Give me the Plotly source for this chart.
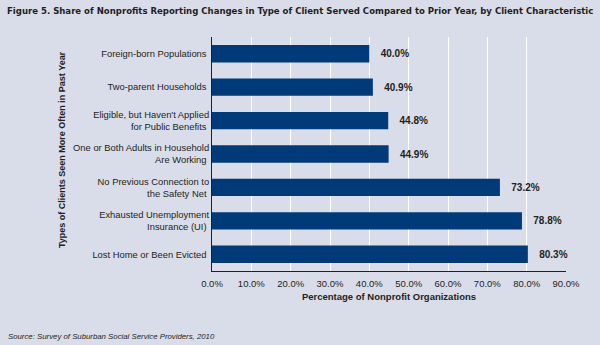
import plotly.graph_objects as go

categories = [
    "Lost Home or Been Evicted",
    "Exhausted Unemployment<br>Insurance (UI)",
    "No Previous Connection to<br>the Safety Net",
    "One or Both Adults in Household<br>Are Working",
    "Eligible, but Haven't Applied<br>for Public Benefits",
    "Two-parent Households",
    "Foreign-born Populations",
]
values = [80.3, 78.8, 73.2, 44.9, 44.8, 40.9, 40.0]
tick_vals = [0, 10, 20, 30, 40, 50, 60, 70, 80, 90]
tick_text = ["0.0%", "10.0%", "20.0%", "30.0%", "40.0%", "50.0%", "60.0%", "70.0%", "80.0%", "90.0%"]

bg = "#d9dce9"
txt = "#231f20"

fig = go.Figure(go.Bar(
    x=values, y=categories, orientation="h",
    marker=dict(color="#003a78", line=dict(width=0)),
    width=0.52,
    text=[f"{v:.1f}%" for v in values], textposition="outside",
    texttemplate="   <b>%{text}</b>",
    textfont=dict(family="Liberation Sans", size=10, color=txt),
    cliponaxis=False,
))

fig.update_layout(
    width=600, height=345,
    margin=dict(l=212, r=34, t=37, b=74),
    paper_bgcolor=bg, plot_bgcolor=bg,
    showlegend=False,
    font=dict(family="Liberation Sans", size=10, color=txt),
    xaxis=dict(range=[0, 90], tickvals=tick_vals, ticktext=tick_text,
               showgrid=True, gridcolor="white", gridwidth=1,
               showline=True, linecolor="#231f20", linewidth=1,
               zeroline=False, ticks="", tickfont=dict(size=9.5),
               ticklabelstandoff=4,
               title=dict(text="<b>Percentage of Nonprofit Organizations</b>",
                          font=dict(size=9.5), standoff=4)),
    yaxis=dict(showline=True, linecolor="#231f20", linewidth=1,
               showgrid=False, ticks="", ticksuffix=" ",
               tickfont=dict(size=9.4)),
    annotations=[
        dict(text="<b>Figure 5. Share of Nonprofits Reporting Changes in Type of Client Served Compared to Prior Year, by Client Characteristic</b>",
             x=0, y=1, xref="paper", yref="paper", xanchor="left", yanchor="top",
             xshift=-207, yshift=37-3, showarrow=False,
             font=dict(family="DejaVu Sans Condensed", size=9.5, color=txt)),
        dict(text="<b>Types of Clients Seen More Often in Past Year</b>",
             x=0, y=0.5, xref="paper", yref="paper", xanchor="center", yanchor="middle",
             xshift=-150, yshift=4, showarrow=False, textangle=-90,
             font=dict(size=9, color=txt)),
        dict(text="<i>Source: Survey of Suburban Social Service Providers, 2010</i>",
             x=0, y=0, xref="paper", yref="paper", xanchor="left", yanchor="top",
             xshift=-206, yshift=-59, showarrow=False,
             font=dict(size=7.8, color=txt)),
    ],
)

fig.write_html("out.html")
